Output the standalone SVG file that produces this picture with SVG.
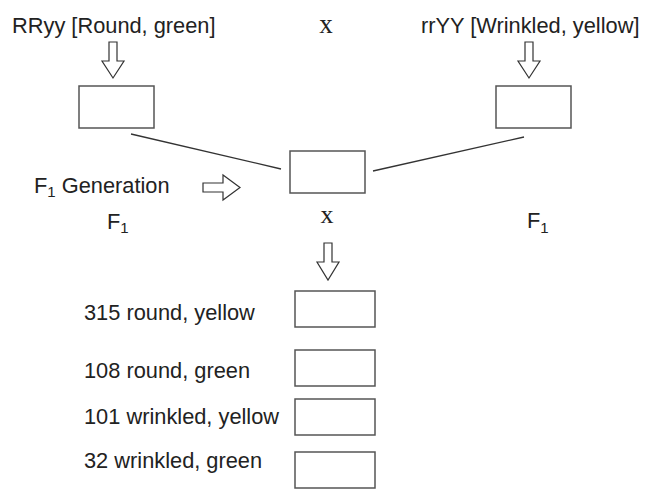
<svg xmlns="http://www.w3.org/2000/svg" width="648" height="497" viewBox="0 0 648 497">
<style>
.t{font-family:"Liberation Sans",Arial,sans-serif;font-size:21.8px;fill:#222}
.sub{font-size:15px}
.x{font-family:"Liberation Serif","Times New Roman",serif;fill:#222}
.box{fill:#fff;stroke:#555;stroke-width:1.5}
.arr{fill:#fff;stroke:#333;stroke-width:1.2;stroke-linejoin:miter}
.ln{stroke:#333;stroke-width:1.3;fill:none}
</style>
<rect width="648" height="497" fill="#fff"/>
<g id="connectors">
<line class="ln" x1="131" y1="134" x2="281" y2="169"/>
<line class="ln" x1="373" y1="171" x2="524" y2="137"/>
<path id="arrow-left-down" class="arr" d="M109,42 H117 V61 H124 L113,78 L102,61 H109 Z"/>
<path id="arrow-right-down" class="arr" d="M525,42 H533 V61 H540 L529,78 L518,61 H525 Z"/>
<path id="arrow-f1" class="arr" d="M203,183 H223 V175 L240,187.5 L223,200 V192 H203 Z"/>
<path id="arrow-bottom-down" class="arr" d="M324,243 H332 V262 H339 L328,280 L317,262 H324 Z"/>
</g>
<g id="parent-left">
<text class="t" x="12" y="33">RRyy [Round, green]</text>
<rect class="box" x="79" y="86" width="75" height="42"/>
</g>
<g id="cross-top"><text class="x" x="326" y="33" font-size="27" text-anchor="middle">x</text></g>
<g id="parent-right">
<text class="t" x="421" y="33">rrYY [Wrinkled, yellow]</text>
<rect class="box" x="496" y="86" width="75" height="42"/>
</g>
<g id="f1-generation">
<text class="t" x="34" y="193">F<tspan class="sub" dy="4">1</tspan><tspan dy="-4"> Generation</tspan></text>
<rect class="box" x="290" y="151" width="75" height="42"/>
</g>
<g id="f1-left"><text class="t" x="107" y="229">F<tspan class="sub" dy="4">1</tspan></text></g>
<g id="cross-mid"><text class="x" x="327" y="223" font-size="26" text-anchor="middle">x</text></g>
<g id="f1-right"><text class="t" x="527" y="228">F<tspan class="sub" dy="5">1</tspan></text></g>
<g id="result-1">
<text class="t" x="84" y="320">315 round, yellow</text>
<rect class="box" x="295" y="291" width="80" height="36"/>
</g>
<g id="result-2">
<text class="t" x="84" y="378">108 round, green</text>
<rect class="box" x="295" y="350" width="80" height="36"/>
</g>
<g id="result-3">
<text class="t" x="84" y="424">101 wrinkled, yellow</text>
<rect class="box" x="295" y="399" width="80" height="36"/>
</g>
<g id="result-4">
<text class="t" x="84" y="468">32 wrinkled, green</text>
<rect class="box" x="295" y="452" width="80" height="36"/>
</g>
</svg>
